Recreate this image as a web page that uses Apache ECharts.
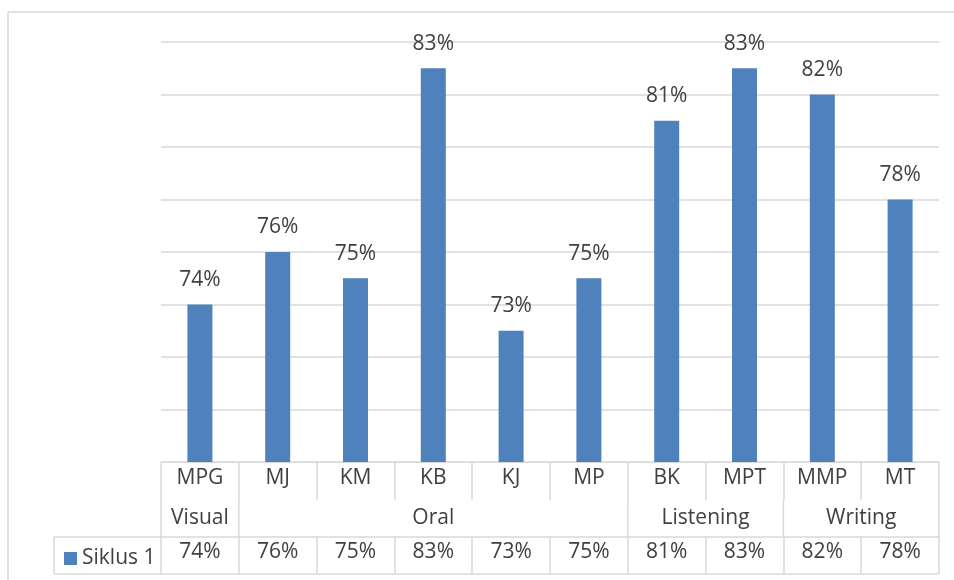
<!DOCTYPE html>
<html>
<head>
<meta charset="utf-8">
<script src="https://cdn.jsdelivr.net/npm/echarts@6/dist/echarts.min.js"></script>
<style>html,body{margin:0;padding:0;background:#fff}#c{width:954px;height:580px}</style>
</head>
<body>
<div id="c"></div>
<script>
const categories = ['MPG','MJ','KM','KB','KJ','MP','BK','MPT','MMP','MT'];
const values = [74,76,75,83,73,75,81,83,82,78];
const groups = ['Visual','Oral','Listening','Writing'];
const groupSpans = [1,5,2,2];
const seriesName = 'Siklus 1';
const yMin = 68, yMax = 84, yInterval = 2;

const FONT = 'Open Sans';
const FS = 21;
const TXT = '#404040';
const LINE = '#d9d9d9';

const chart = echarts.init(document.getElementById('c'), null, {renderer:'canvas'});
chart.setOption({
  animation:false,
  backgroundColor:'#fff',
  textStyle:{fontFamily:FONT},
  grid:{left:161, right:15, top:42, bottom:118},
  legend:{show:true, left:59, top:543, icon:'rect', itemWidth:13, itemHeight:13, itemGap:4,
    textStyle:{fontSize:FS, color:TXT, fontFamily:FONT}, data:[seriesName]},
  xAxis:[
    {type:'category', data:categories, position:'bottom',
     axisLine:{show:true, lineStyle:{color:LINE, width:1}},
     axisTick:{show:true, length:38, lineStyle:{color:LINE, width:1.5}},
     axisLabel:{fontSize:FS, color:TXT, fontFamily:FONT, margin:6}},
    {type:'category', data:categories, position:'bottom', offset:75,
     axisLine:{show:true, lineStyle:{color:LINE, width:1.5}},
     axisTick:{show:true, length:37, lineStyle:{color:LINE, width:1.5}},
     axisLabel:{fontSize:FS, color:TXT, fontFamily:FONT, margin:5,
       formatter:(v, i) => values[i] + '%'}}
  ],
  yAxis:{type:'value', min:yMin, max:yMax, interval:yInterval,
    axisLabel:{show:false}, axisLine:{show:false}, axisTick:{show:false},
    splitLine:{lineStyle:{color:LINE, width:1.5}}},
  series:[{name:seriesName, type:'bar', data:values, barWidth:25,
    itemStyle:{color:'#4F81BD'},
    label:{show:true, position:'top', distance:14, formatter:'{c}%',
      fontSize:FS, color:TXT, fontFamily:FONT}}]
});

// table overlay computed from axis scale
const p0 = chart.convertToPixel({xAxisIndex:0}, categories[0]);
const p1 = chart.convertToPixel({xAxisIndex:0}, categories[1]);
const step = p1 - p0;
const bound = k => p0 - step/2 + k*step;
const yAxis0 = chart.convertToPixel({yAxisIndex:0}, yMin);
const row2Top = yAxis0 + 38, row3Top = yAxis0 + 75, rowBottom = yAxis0 + 112;
const g = [];
const ln = (x1,y1,x2,y2,w) => g.push({type:'line', shape:{x1,y1,x2,y2}, style:{stroke:LINE, lineWidth:w||1.5}, silent:true});
// outer chart border
ln(8,12,954,12,1.5);
ln(8,12,8,580,1.5);
// group row
let k = 0;
ln(bound(0), row2Top, bound(0), row3Top);
groups.forEach((name, i) => {
  const a = bound(k), b = bound(k + groupSpans[i]);
  k += groupSpans[i];
  ln(b, row2Top, b, row3Top);
  g.push({type:'text', x:(a+b)/2, y:(row2Top+row3Top)/2,
    style:{text:name, fill:TXT, font:FS + 'px "' + FONT + '"', align:'center', verticalAlign:'middle'}, silent:true});
});
// legend cell
ln(54, row3Top, bound(0), row3Top);
ln(54, row3Top, 54, rowBottom);
ln(54, rowBottom, bound(categories.length), rowBottom);
chart.setOption({graphic:g});
</script>
</body>
</html>
